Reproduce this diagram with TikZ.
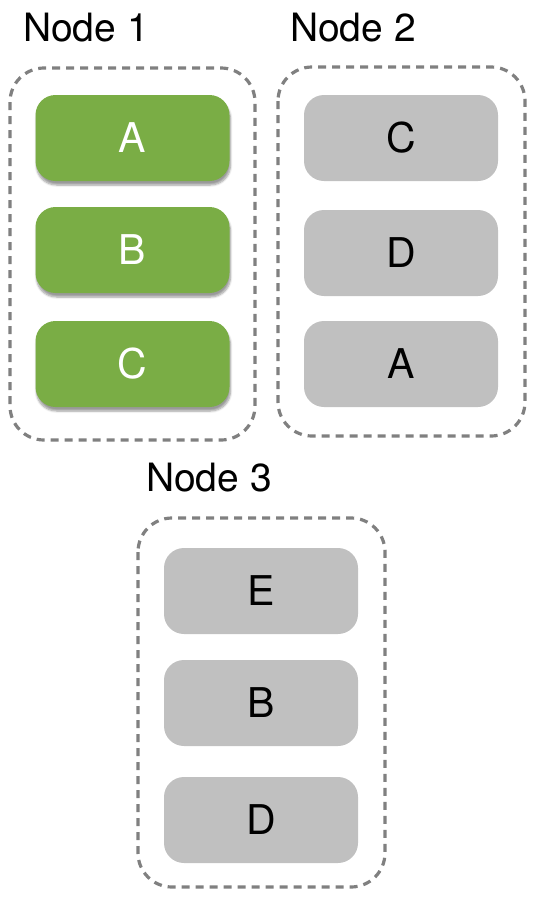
\documentclass[tikz,border=0pt]{standalone}
\usepackage{fontspec}
\setmainfont{TeX Gyre Heros}
\usetikzlibrary{shadows.blur}
\definecolor{grn}{HTML}{7AAD45}
\definecolor{gry}{HTML}{C0C0C0}
\definecolor{dsh}{HTML}{808080}
\tikzset{
  grp/.style={draw=dsh, line width=3.2pt, dash pattern=on 8pt off 6pt, rounded corners=34pt},
  item/.style={rounded corners=20pt, minimum width=194pt, minimum height=86pt, inner sep=0pt,
    font=\fontsize{41}{41}\selectfont},
  gitem/.style={item, fill=grn, text=white, blur shadow={shadow xshift=1pt, shadow yshift=-4pt, shadow blur steps=6, shadow opacity=40}},
  yitem/.style={item, fill=gry, text=black},
  ttl/.style={font=\fontsize{39}{39}\selectfont, inner sep=0pt}
}
\begin{document}
\begin{tikzpicture}[x=1pt,y=-1pt]
\useasboundingbox (0,0) rectangle (537,900);
% Node 1
\node[ttl] (t1) at (86,28) {Node 1};
\draw[grp] (10,68) rectangle (255,440);
\node[gitem] (n1a) at (132.5,138) {A};
\node[gitem] (n1b) at (132.5,250) {B};
\node[gitem] (n1c) at (132.5,364) {C};
% Node 2
\node[ttl] (t2) at (353,28) {Node 2};
\draw[grp] (278,67) rectangle (525,436);
\node[yitem] (n2c) at (401,138) {C};
\node[yitem] (n2d) at (401,253) {D};
\node[yitem] (n2a) at (401,364) {A};
% Node 3
\node[ttl] (t3) at (209,478) {Node 3};
\draw[grp] (138,518) rectangle (385,887);
\node[yitem] (n3e) at (261,591) {E};
\node[yitem] (n3b) at (261,703) {B};
\node[yitem] (n3d) at (261,820) {D};
\end{tikzpicture}
\end{document}
